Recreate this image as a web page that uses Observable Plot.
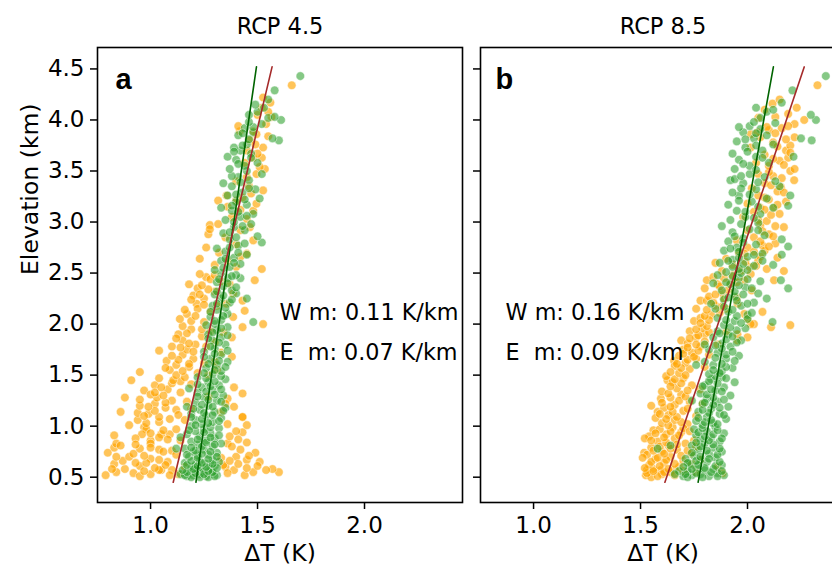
<!DOCTYPE html>
<html>
<head>
<meta charset="utf-8">
<script src="https://cdn.jsdelivr.net/npm/d3@7"></script>
<script src="https://cdn.jsdelivr.net/npm/@observablehq/plot@0.6"></script>
<style>
  html, body { margin: 0; padding: 0; background: white; }
  #fig { position: relative; width: 832px; height: 568px; overflow: hidden; background: white; }
  #fig svg { position: absolute; top: 0; }
</style>
</head>
<body>
<div id="fig"></div>
<script>
// ---------- data: [elevation km, ΔT K] ----------
const titles = ["RCP 4.5", "RCP 8.5"];
const panelLetters = ["a", "b"];
const xTicks = [1.0, 1.5, 2.0];
const yTicks = [0.5, 1.0, 1.5, 2.0, 2.5, 3.0, 3.5, 4.0, 4.5];
const slopeLabelsA = ["W m: 0.11 K/km", "E\u00a0\u00a0m: 0.07 K/km"];
const slopeLabelsB = ["W m: 0.16 K/km", "E\u00a0\u00a0m: 0.09 K/km"];

// fitted lines: elevation end points and ΔT at those ends
const lineElev = [0.45, 4.52];
const aWestFit = [1.106, 1.568];
const aEastFit = [1.212, 1.495];
const bWestFit = [1.614, 2.265];
const bEastFit = [1.769, 2.121];

// Panel a (RCP 4.5), West (orange)
const aWest = [
[0.52,0.79],[0.55,0.84],[0.58,0.88],[0.66,0.87],[0.70,0.90],[0.73,0.92],[0.74,0.80],[0.79,0.83],[0.83,0.84],[0.81,0.86],
[0.91,0.83],[0.99,0.97],[0.97,0.98],[0.92,0.96],[0.86,1.00],[0.83,1.00],[0.92,1.05],[0.92,1.09],[0.65,1.08],[0.57,1.05],
[0.57,1.04],[0.57,1.10],[0.55,1.60],[0.58,1.57],[0.57,1.54],[0.65,1.51],[0.74,1.49],[0.84,1.45],[0.94,1.43],[1.01,1.45],
[1.09,1.43],[1.19,1.39],[0.57,1.39],[0.60,1.35],[0.70,1.40],[0.83,1.36],[0.53,1.13],[0.60,1.16],[0.62,1.34],[0.68,1.00],
[0.76,1.10],[0.80,1.38],[0.88,0.93],[0.95,1.40],[0.61,0.95],[0.67,1.45],[0.72,1.12],[0.78,0.95],[0.86,1.14],[0.90,1.37],
[0.97,1.12],[0.54,0.92],[0.63,0.83],[0.77,1.04],[0.69,1.33],[0.89,1.04],
[0.51,0.95],[0.53,1.00],[0.56,0.97],[0.59,1.02],[0.62,1.07],[0.64,0.98],[0.67,1.04],[0.71,0.97],[0.75,1.06],[0.79,1.00],
[0.82,0.93],[0.87,1.08],[0.93,1.00],[0.96,1.06],[0.52,1.44],[0.55,1.48],[0.59,1.45],[0.63,1.41],[0.66,1.37],[0.71,1.46],
[0.77,1.42],[0.87,1.41],[0.54,1.36],[0.61,1.50],[0.52,1.09],[0.58,0.82],[0.70,0.84],[0.64,0.93],
[1.01,0.90],[1.06,0.94],[1.14,0.86],[1.13,0.94],[1.28,0.88],[1.45,0.91],[1.53,0.95],[1.04,1.04],[1.09,1.04],[1.22,1.02],
[1.28,1.03],[1.12,0.99],[1.18,1.07],[1.35,0.97],[1.40,1.02],[1.25,1.10],[1.31,1.00],[1.02,1.36],[1.09,1.43],[1.27,1.36],
[1.32,1.43],[1.38,1.39],[1.14,1.33],[1.22,1.35],[1.16,1.12],[1.36,1.08],[1.44,1.14],[1.20,0.95],
[1.03,0.98],[1.07,1.09],[1.10,0.97],[1.15,1.02],[1.19,0.99],[1.23,1.07],[1.26,0.95],[1.30,1.06],[1.33,1.02],[1.38,1.05],
[1.42,1.10],[1.47,1.04],[1.11,1.13],[1.17,1.19],[1.24,1.17],[1.33,1.14],[1.41,1.19],[1.29,1.27],[1.06,1.16],
[1.55,1.09],[1.64,1.075],[1.74,1.04],[1.84,1.15],[1.90,1.13],[1.45,1.106],[1.68,1.38],[1.87,1.38],[1.60,1.12],[1.70,1.15],
[1.78,1.10],[1.58,1.18],[1.66,1.20],[1.75,1.17],[1.52,1.22],[1.62,1.25],[1.80,1.21],[1.95,1.19],[1.72,1.33],[1.82,1.30],
[1.92,1.34],[1.55,1.31],[1.97,1.43],[1.48,1.16],[1.88,1.24],
[1.50,1.12],[1.54,1.15],[1.57,1.07],[1.61,1.18],[1.65,1.13],[1.69,1.10],[1.73,1.20],[1.77,1.14],[1.81,1.18],[1.86,1.12],
[1.91,1.17],[1.95,1.24],[1.98,1.15],[1.50,1.27],[1.63,1.30],[1.78,1.26],[1.93,1.28],
[2.05,1.137],[2.20,1.215],[2.28,1.20],[2.39,1.18],[2.46,1.26],[2.49,1.23],[2.07,1.386],[2.00,1.526],[2.13,1.44],[2.23,1.43],
[2.43,1.487],[2.39,1.37],[2.30,1.386],[2.20,1.355],[2.10,1.17],[2.15,1.22],[2.25,1.25],[2.35,1.22],[2.12,1.28],[2.32,1.30],
[2.42,1.33],[2.02,1.25],[2.18,1.31],
[2.03,1.19],[2.08,1.21],[2.14,1.16],[2.19,1.25],[2.24,1.19],[2.29,1.23],[2.34,1.27],[2.38,1.24],[2.44,1.28],[2.48,1.30],
[2.88,1.27],[2.97,1.277],[2.98,1.316],[2.75,1.26],[2.64,1.23],[2.82,1.48],[2.95,1.464],[2.69,1.45],[2.54,1.52],[2.58,1.30],
[2.62,1.36],[2.70,1.32],[2.78,1.40],[2.85,1.35],[2.92,1.42],[2.56,1.40],[2.66,1.42],[2.93,1.277],
[3.21,1.316],[3.26,1.355],[3.21,1.40],[3.24,1.43],[3.11,1.48],[3.18,1.495],[3.31,1.526],[3.44,1.45],[3.47,1.495],[3.05,1.38],
[3.12,1.42],[3.35,1.46],[3.40,1.40],[3.15,1.36],[3.28,1.47],[3.03,1.45],
[3.52,1.534],[3.63,1.52],[3.73,1.526],[3.63,1.48],[3.54,1.51],[3.86,1.495],[3.96,1.54],[3.89,1.417],[3.94,1.41],[3.80,1.464],
[3.89,1.48],[3.70,1.45],[3.58,1.44],[3.67,1.50],[3.76,1.49],[3.84,1.55],
[4.03,1.565],[4.08,1.55],[4.17,1.56],[4.22,1.526],[4.34,1.66],[4.12,1.52],[4.05,1.50]
];

// Panel a (RCP 4.5), East (green)
const aEast = [
[0.51,1.17],[0.52,1.20],[0.53,1.23],[0.51,1.26],[0.54,1.29],[0.52,1.31],[0.56,1.18],[0.57,1.22],[0.55,1.25],[0.58,1.28],
[0.60,1.19],[0.59,1.24],[0.61,1.30],[0.53,1.14],[0.62,1.21],[0.63,1.26],[0.64,1.16],[0.66,1.23],[0.67,1.29],[0.65,1.32],
[0.70,1.18],[0.71,1.22],[0.72,1.27],[0.74,1.31],[0.75,1.20],[0.77,1.25],[0.78,1.16],[0.80,1.29],[0.82,1.22],[0.83,1.33],
[0.85,1.19],[0.86,1.26],[0.88,1.30],[0.90,1.23],[0.92,1.17],[0.93,1.28],[0.95,1.21],[0.97,1.25],[0.98,1.32],[1.00,1.19],
[0.50,1.19],[0.50,1.23],[0.50,1.27],[0.51,1.30],[0.52,1.16],[0.53,1.25],[0.54,1.21],[0.55,1.17],[0.55,1.29],[0.56,1.27],
[0.57,1.15],[0.58,1.20],[0.59,1.31],[0.60,1.26],[0.61,1.22],[0.62,1.17],[0.63,1.29],[0.64,1.24],[0.66,1.19],[0.68,1.27],
[0.69,1.22],[0.70,1.31],[0.72,1.17],[0.73,1.24],[0.75,1.28],[0.76,1.21],[0.79,1.19],[0.80,1.24],[0.82,1.30],[0.84,1.26],
[0.87,1.22],[0.89,1.28],[0.91,1.32],[0.94,1.25],[0.96,1.18],[0.99,1.28],
[0.78,1.12],[0.89,1.14],[1.19,1.17],[1.37,1.18],
[1.02,1.24],[1.04,1.29],[1.06,1.21],[1.08,1.33],[1.10,1.26],[1.12,1.19],[1.14,1.30],[1.16,1.23],[1.18,1.35],[1.20,1.27],
[1.23,1.21],[1.25,1.31],[1.28,1.25],[1.30,1.34],[1.33,1.22],[1.35,1.29],[1.38,1.24],[1.40,1.32],[1.43,1.27],[1.46,1.35],
[1.48,1.22],
[1.01,1.21],[1.03,1.27],[1.05,1.32],[1.07,1.24],[1.09,1.19],[1.11,1.29],[1.13,1.25],[1.15,1.34],[1.17,1.20],[1.19,1.29],
[1.21,1.24],[1.24,1.33],[1.26,1.27],[1.29,1.22],[1.31,1.30],[1.34,1.26],[1.36,1.33],[1.39,1.28],[1.41,1.22],[1.44,1.30],
[1.47,1.26],[1.49,1.33],
[1.51,1.29],[1.54,1.33],[1.57,1.26],[1.60,1.31],[1.63,1.36],[1.66,1.28],[1.70,1.33],[1.73,1.25],[1.76,1.30],[1.80,1.35],
[1.84,1.29],[1.87,1.33],[1.90,1.27],[1.94,1.31],[1.97,1.36],[2.00,1.30],
[1.52,1.25],[1.55,1.30],[1.58,1.35],[1.61,1.27],[1.64,1.32],[1.68,1.25],[1.71,1.30],[1.74,1.36],[1.78,1.28],[1.82,1.32],
[1.86,1.27],[1.89,1.36],[1.92,1.29],[1.96,1.33],[1.99,1.26],
[2.02,1.48],[2.25,1.45],[2.45,1.42],[2.30,1.40],
[2.04,1.33],[2.07,1.28],[2.10,1.36],[2.14,1.31],[2.18,1.29],[2.21,1.37],[2.25,1.33],[2.29,1.30],[2.33,1.38],[2.37,1.34],
[2.41,1.31],[2.45,1.36],[2.48,1.40],[2.50,1.33],
[2.03,1.30],[2.08,1.34],[2.12,1.28],[2.16,1.35],[2.20,1.31],[2.24,1.38],[2.28,1.34],[2.32,1.31],[2.36,1.40],[2.40,1.36],
[2.44,1.32],[2.47,1.38],
[2.53,1.30],[2.56,1.37],[2.59,1.42],[2.62,1.33],[2.65,1.39],[2.68,1.45],[2.71,1.35],[2.74,1.31],[2.77,1.41],[2.80,1.52],
[2.83,1.37],[2.86,1.50],[2.89,1.34],[2.92,1.44],[2.95,1.39],[2.98,1.47],
[2.55,1.34],[2.60,1.39],[2.64,1.35],[2.70,1.41],[2.75,1.37],[2.79,1.44],[2.85,1.40],[2.90,1.37],[2.96,1.43],[3.00,1.39],
[3.02,1.35],[3.05,1.42],[3.08,1.48],[3.11,1.38],[3.14,1.33],[3.17,1.45],[3.20,1.40],[3.23,1.51],[3.26,1.36],[3.29,1.43],
[3.32,1.49],[3.35,1.38],[3.38,1.34],[3.41,1.46],[3.44,1.41],[3.47,1.52],
[3.06,1.45],[3.10,1.41],[3.16,1.38],[3.22,1.44],[3.27,1.40],[3.33,1.46],[3.39,1.42],[3.45,1.38],[3.50,1.45],
[3.52,1.37],[3.55,1.44],[3.58,1.50],[3.61,1.40],[3.64,1.36],[3.67,1.47],[3.70,1.42],[3.73,1.39],[3.76,1.45],[3.80,1.60],
[3.82,1.57],[3.85,1.41],[3.88,1.48],[3.92,1.44],[3.96,1.52],
[3.57,1.41],[3.63,1.47],[3.69,1.39],[3.75,1.43],[3.81,1.46],[3.87,1.43],[3.93,1.48],[3.98,1.46],
[4.00,1.61],[4.02,1.55],[4.05,1.46],[4.08,1.50],[4.12,1.53],[4.15,1.49],[4.20,1.55],[4.29,1.58],[4.43,1.70],[4.03,1.58]
];

// Panel b (RCP 8.5), West (orange)
const bWest = [
[0.52,1.525],[0.57,1.53],[0.57,1.595],[0.57,1.657],[0.54,1.883],[0.74,1.517],[0.96,1.56],[1.14,1.58],[0.73,1.735],[0.86,1.75],
[1.02,1.72],[0.50,1.55],[0.53,1.60],[0.55,1.64],[0.58,1.56],[0.60,1.68],[0.62,1.54],[0.64,1.61],[0.66,1.70],[0.68,1.57],
[0.70,1.64],[0.72,1.53],[0.75,1.60],[0.77,1.67],[0.79,1.55],[0.81,1.63],[0.83,1.71],[0.85,1.58],[0.88,1.66],[0.90,1.54],
[0.92,1.62],[0.94,1.69],[0.97,1.59],[0.99,1.65],[0.63,1.74],[0.80,1.76],[0.56,1.70],[0.69,1.51],[0.88,1.52],[0.60,1.86],
[0.51,1.58],[0.52,1.66],[0.54,1.53],[0.55,1.61],[0.56,1.56],[0.58,1.63],[0.59,1.52],[0.61,1.59],[0.63,1.66],[0.65,1.55],
[0.67,1.62],[0.69,1.58],[0.71,1.69],[0.73,1.61],[0.76,1.56],[0.78,1.64],[0.80,1.59],[0.82,1.67],[0.84,1.62],[0.86,1.55],
[0.89,1.61],[0.91,1.68],[0.93,1.57],[0.95,1.64],[0.98,1.70],[0.55,1.76],[0.67,1.78],[0.76,1.72],[0.95,1.73],
[1.27,1.595],[1.45,1.626],[1.03,1.60],[1.06,1.66],[1.08,1.57],[1.11,1.63],[1.15,1.70],[1.18,1.61],[1.21,1.66],[1.24,1.73],
[1.28,1.64],[1.31,1.69],[1.34,1.60],[1.37,1.67],[1.40,1.74],[1.43,1.65],[1.47,1.70],[1.10,1.76],[1.20,1.55],[1.36,1.78],
[1.22,1.79],[1.49,1.62],
[1.01,1.63],[1.04,1.69],[1.07,1.62],[1.09,1.67],[1.12,1.59],[1.14,1.65],[1.17,1.72],[1.19,1.64],[1.23,1.60],[1.25,1.68],
[1.29,1.71],[1.32,1.63],[1.35,1.72],[1.39,1.64],[1.42,1.69],[1.46,1.66],
[1.64,1.657],[1.84,1.69],[1.52,1.68],[1.56,1.73],[1.59,1.66],[1.62,1.71],[1.66,1.76],[1.69,1.68],[1.72,1.74],[1.75,1.70],
[1.78,1.78],[1.81,1.72],[1.87,1.76],[1.90,1.80],[1.93,1.73],[1.96,1.79],[1.58,1.80],[1.70,1.82],[2.05,2.00],[2.00,2.03],
[1.87,2.00],[1.84,1.953],[1.97,2.11],[1.99,2.20],[1.90,1.953],[2.00,2.015],[1.92,1.90],[1.80,1.86],
[1.50,1.71],[1.53,1.64],[1.57,1.69],[1.61,1.67],[1.65,1.72],[1.68,1.75],[1.71,1.70],[1.74,1.77],[1.77,1.72],[1.80,1.76],
[1.83,1.80],[1.86,1.73],[1.89,1.77],[1.92,1.82],[1.95,1.76],[1.98,1.81],
[2.03,1.75],[2.23,1.78],[2.43,1.81],[2.12,2.07],[2.23,1.81],[2.20,1.953],[2.10,1.985],[2.43,1.985],[2.49,2.015],[2.06,1.78],
[2.09,1.83],[2.15,1.76],[2.18,1.85],[2.27,1.82],[2.31,1.88],[2.35,1.80],[2.39,1.86],[2.46,1.84],[2.26,1.95],[2.40,1.92],
[2.15,1.90],[2.33,2.02],
[2.01,1.78],[2.04,1.82],[2.08,1.80],[2.11,1.87],[2.14,1.81],[2.17,1.88],[2.21,1.84],[2.25,1.89],[2.29,1.85],[2.33,1.91],
[2.37,1.87],[2.41,1.95],[2.45,1.89],[2.48,1.93],
[2.43,2.124],[2.54,2.09],[2.52,2.17],[2.65,2.14],[2.79,2.13],[2.95,2.17],[2.85,2.03],[2.75,2.00],[2.69,1.985],[2.62,2.05],
[2.52,1.88],[2.58,1.93],[2.64,1.90],[2.70,1.96],[2.77,2.07],[2.82,1.95],[2.88,2.10],[2.92,2.00],[2.97,2.06],[2.56,2.01],
[2.72,2.08],[2.60,1.85],
[2.52,1.97],[2.57,2.04],[2.61,1.99],[2.66,2.06],[2.71,2.03],[2.76,2.10],[2.81,2.06],[2.86,2.12],[2.91,2.07],[2.96,2.13],
[3.14,2.06],[3.01,2.09],[3.41,2.218],[3.50,2.20],[3.34,2.156],[3.14,2.124],[3.05,1.98],[3.10,2.03],[3.18,2.00],[3.22,2.10],
[3.26,2.05],[3.30,2.14],[3.38,2.08],[3.45,2.12],[3.08,2.15],[3.20,2.18],[3.33,2.02],[3.47,2.05],
[3.02,2.05],[3.07,2.11],[3.12,2.08],[3.17,2.14],[3.24,2.08],[3.29,2.17],[3.36,2.11],[3.43,2.16],[3.49,2.10],
[3.52,2.22],[3.63,2.19],[3.70,2.18],[3.83,2.22],[3.96,2.22],[3.86,2.015],[3.73,2.015],[3.83,2.06],[3.55,2.10],[3.60,2.15],
[3.66,2.08],[3.78,2.12],[3.90,2.10],[3.58,2.04],[3.75,2.20],[3.92,2.16],[3.93,2.09],[3.88,2.047],
[3.56,2.17],[3.62,2.12],[3.68,2.20],[3.74,2.14],[3.81,2.18],[3.87,2.13],[3.94,2.19],
[4.00,2.265],[4.06,2.19],[4.16,2.117],[4.03,2.13],[4.34,2.327],[4.02,2.05],[4.10,2.08],[4.20,2.15],[4.12,2.23]
];

// Panel b (RCP 8.5), East (green)
const bEast = [
[0.51,1.70],[0.52,1.74],[0.53,1.78],[0.51,1.82],[0.54,1.86],[0.52,1.89],[0.56,1.72],[0.57,1.80],[0.58,1.84],[0.60,1.76],
[0.62,1.88],[0.63,1.73],[0.65,1.81],[0.67,1.78],[0.69,1.85],[0.71,1.75],[0.73,1.82],[0.75,1.88],[0.77,1.77],[0.79,1.84],
[0.81,1.74],[0.83,1.80],[0.85,1.87],[0.87,1.78],[0.89,1.83],[0.91,1.76],[0.93,1.89],[0.95,1.81],[0.97,1.75],[0.99,1.85],
[0.78,1.58],[0.81,1.64],[0.68,1.71],[0.56,1.68],
[0.50,1.72],[0.50,1.79],[0.51,1.86],[0.53,1.71],[0.54,1.76],[0.55,1.83],[0.56,1.88],[0.58,1.74],[0.59,1.80],[0.61,1.85],
[0.62,1.77],[0.64,1.72],[0.65,1.87],[0.66,1.76],[0.68,1.82],[0.70,1.78],[0.72,1.86],[0.74,1.74],[0.76,1.81],[0.78,1.87],
[0.80,1.78],[0.82,1.84],[0.84,1.76],[0.86,1.82],[0.88,1.88],[0.90,1.80],[0.92,1.84],[0.94,1.77],[0.96,1.86],[0.98,1.79],
[0.53,1.66],[0.60,1.70],
[1.01,1.79],[1.03,1.84],[1.05,1.76],[1.07,1.90],[1.09,1.81],[1.12,1.87],[1.14,1.77],[1.17,1.83],[1.19,1.91],[1.22,1.79],
[1.24,1.86],[1.27,1.81],[1.30,1.92],[1.32,1.78],[1.35,1.85],[1.38,1.89],[1.40,1.80],[1.43,1.94],[1.46,1.83],[1.48,1.88],
[1.25,1.74],
[1.02,1.86],[1.04,1.80],[1.06,1.83],[1.08,1.77],[1.11,1.89],[1.13,1.82],[1.16,1.79],[1.18,1.87],[1.21,1.84],[1.23,1.80],
[1.26,1.89],[1.28,1.84],[1.31,1.81],[1.34,1.88],[1.36,1.83],[1.39,1.79],[1.42,1.86],[1.44,1.82],[1.47,1.90],[1.49,1.85],
[1.51,1.82],[1.54,1.88],[1.57,1.93],[1.60,1.84],[1.63,1.80],[1.66,1.90],[1.69,1.96],[1.72,1.86],[1.75,1.82],[1.78,1.92],
[1.81,1.88],[1.84,1.97],[1.87,1.84],[1.90,1.91],[1.93,1.86],[1.96,1.99],[1.99,1.89],[1.60,1.76],[1.80,1.80],
[1.52,1.87],[1.55,1.84],[1.58,1.90],[1.61,1.88],[1.64,1.94],[1.67,1.85],[1.70,1.90],[1.73,1.93],[1.76,1.88],[1.79,1.85],
[1.82,1.95],[1.85,1.90],[1.88,1.93],[1.91,1.87],[1.94,1.95],[1.97,1.92],
[2.02,2.117],[2.25,2.09],[2.03,1.94],[2.06,1.86],[2.09,2.00],[2.12,1.91],[2.15,1.85],[2.18,1.97],[2.21,2.03],[2.24,1.89],
[2.27,1.94],[2.30,2.05],[2.33,1.88],[2.36,1.99],[2.39,1.92],[2.42,2.06],[2.45,1.96],[2.48,1.86],[2.43,2.156],[2.35,2.19],
[2.05,2.00],[2.20,1.83],[2.40,1.84],
[2.01,1.97],[2.04,1.90],[2.08,1.95],[2.11,2.02],[2.14,1.93],[2.17,1.89],[2.20,2.00],[2.23,1.95],[2.26,1.91],[2.29,1.98],
[2.32,1.94],[2.35,2.02],[2.38,1.96],[2.41,1.90],[2.44,2.00],[2.47,1.93],[2.50,1.97],
[2.58,2.12],[2.51,1.90],[2.54,1.96],[2.57,2.03],[2.60,1.87],[2.63,1.93],[2.66,2.00],[2.69,2.07],[2.72,1.89],[2.75,1.95],
[2.78,2.04],[2.81,1.91],[2.84,1.98],[2.87,2.08],[2.90,1.93],[2.93,2.01],[2.96,1.88],[2.99,2.05],[2.83,2.16],[2.76,2.19],
[2.68,2.16],[2.62,2.07],
[2.53,2.00],[2.56,1.93],[2.59,1.98],[2.62,1.91],[2.65,1.96],[2.68,2.03],[2.71,1.96],[2.74,1.92],[2.80,1.98],[2.86,1.94],
[2.92,2.05],[2.98,1.97],
[3.02,1.92],[3.05,1.99],[3.08,2.06],[3.11,1.95],[3.14,2.12],[3.17,1.91],[3.20,2.02],[3.23,2.09],[3.26,1.96],[3.29,1.93],
[3.32,2.04],[3.35,2.15],[3.38,1.98],[3.41,1.92],[3.44,2.08],[3.47,2.01],[3.26,2.20],[3.16,2.19],[3.40,2.13],[3.42,1.94],
[3.04,2.03],[3.10,1.99],[3.15,2.05],[3.21,1.96],[3.27,2.01],[3.33,1.97],[3.39,2.05],[3.45,1.97],
[3.52,1.94],[3.55,2.01],[3.58,2.10],[3.61,1.96],[3.64,2.04],[3.67,1.93],[3.70,2.07],[3.73,1.99],[3.76,2.12],[3.79,1.95],
[3.82,2.03],[3.85,2.09],[3.88,1.98],[3.91,2.06],[3.94,2.01],[3.97,2.13],[3.82,2.25],[3.80,2.30],[3.64,2.215],
[3.51,2.04],[3.57,1.98],[3.63,2.07],[3.69,2.00],[3.75,2.04],[3.81,1.99],[3.87,2.04],[3.93,1.96],
[4.00,2.32],[4.05,2.296],[4.02,2.06],[4.08,2.09],[4.12,2.04],[4.17,2.16],[4.29,2.21],[4.43,2.366],[4.10,2.12],[3.98,2.03]
];

// ---------- drawing ----------
const ORANGE = "#ffa500";
const GREEN = "#2ca02c";
const WEST_LINE = "#a52a2a";
const EAST_LINE = "#006400";
const FONT = "DejaVu Sans";

function toRows(arr) { return arr.map(([e, t]) => ({e, t})); }
function fitRows(fit) { return lineElev.map((e, i) => ({e, t: fit[i]})); }

function panel({west, east, westFit, eastFit, title, letter, slopeLabels, width, marginLeft, marginRight, showYLabels, letterDx, slopeDx}) {
  const marks = [
    Plot.dot(toRows(west), {x: "t", y: "e", r: 4.3, fill: ORANGE, fillOpacity: 0.65, stroke: "white", strokeWidth: 0.6, strokeOpacity: 0.8}),
    Plot.dot(toRows(east), {x: "t", y: "e", r: 4.3, fill: GREEN, fillOpacity: 0.58, stroke: "white", strokeWidth: 0.6, strokeOpacity: 0.8}),
    Plot.line(fitRows(eastFit), {x: "t", y: "e", stroke: EAST_LINE, strokeWidth: 1.6}),
    Plot.line(fitRows(westFit), {x: "t", y: "e", stroke: WEST_LINE, strokeWidth: 1.6}),
    Plot.frame({stroke: "black", strokeWidth: 1.6}),
    Plot.axisX({ticks: xTicks, tickSize: 7, tickPadding: 7, tickFormat: d3.format(".1f"), strokeWidth: 1.5, fontSize: 23, label: null}),
    Plot.axisY({ticks: yTicks, tickSize: 7, tickPadding: 6, tickFormat: showYLabels ? d3.format(".1f") : () => "", strokeWidth: 1.5, fontSize: 23, label: null}),
    Plot.text([title], {frameAnchor: "top", lineAnchor: "bottom", dy: -14, fontSize: 22.5, fill: "black"}),
    Plot.text(["\u0394T (K)"], {frameAnchor: "bottom", lineAnchor: "top", dy: 42, fontSize: 23.5, fill: "black"}),
    Plot.text([letter], {frameAnchor: "top-left", lineAnchor: "bottom", textAnchor: "start", dx: letterDx, dy: 41, fontSize: 29, fontWeight: "bold", fontFamily: "Liberation Sans", fill: "black"}),
    Plot.text([slopeLabels.join("\n")], {frameAnchor: "top-left", lineAnchor: "top", textAnchor: "start", dx: slopeDx, dy: 244, lineHeight: 1.79, fontSize: 22.3, fill: "black"})
  ];
  if (showYLabels) {
    marks.push(Plot.text(["Elevation (km)"], {frameAnchor: "left", rotate: -90, dx: -67, dy: 0, fontSize: 23.5, fill: "black"}));
  }
  return Plot.plot({
    width, height: 568,
    marginLeft, marginRight, marginTop: 47, marginBottom: 66,
    x: {domain: [0.752, 2.458]},
    y: {domain: [0.252, 4.71]},
    style: {fontFamily: FONT, fontSize: "22px", color: "black", background: "transparent", overflow: "visible"},
    marks
  });
}

const fig = document.getElementById("fig");
const svgA = panel({west: aWest, east: aEast, westFit: aWestFit, eastFit: aEastFit, title: titles[0], letter: panelLetters[0],
  slopeLabels: slopeLabelsA, width: 470, marginLeft: 97, marginRight: 8, showYLabels: true, letterDx: 18, slopeDx: 182});
svgA.style.left = "0px";
const svgB = panel({west: bWest, east: bEast, westFit: bWestFit, eastFit: bEastFit, title: titles[1], letter: panelLetters[1],
  slopeLabels: slopeLabelsB, width: 375, marginLeft: 10, marginRight: 0, showYLabels: false, letterDx: 15, slopeDx: 25});
svgB.style.left = "470px";
fig.appendChild(svgA);
fig.appendChild(svgB);
</script>
</body>
</html>
